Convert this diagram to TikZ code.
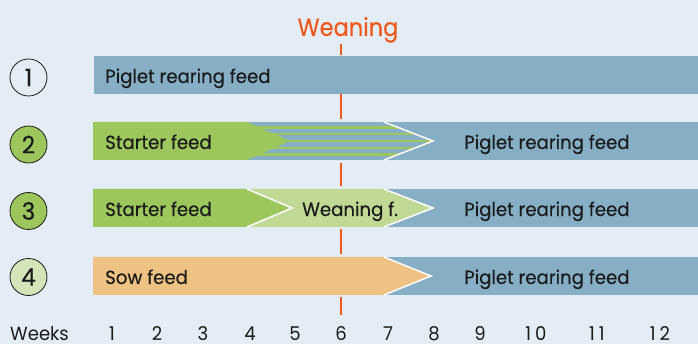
\documentclass[tikz,border=0pt]{standalone}
\usepackage{fontspec}
\setmainfont{Poppins}[FakeStretch=0.95]
\newfontfamily\barfont{Poppins}[FakeStretch=0.955, FakeBold=0.3]
\newfontfamily\weanfont{Poppins}[FakeStretch=0.9, FakeBold=0.3]
\definecolor{bgblue}{HTML}{E4ECF5}
\definecolor{barblue}{HTML}{86AFC6}
\definecolor{stgreen}{HTML}{9DC65C}
\definecolor{wngreen}{HTML}{C0DA96}
\definecolor{circgreen}{HTML}{D4E6B9}
\definecolor{sowfeed}{HTML}{EEC283}
\definecolor{weanred}{HTML}{EE5A1E}
\definecolor{ink}{HTML}{1A1A1A}
\tikzset{
  numcircle/.style={circle, draw=ink, line width=0.8pt, minimum size=37pt, inner sep=0pt,
    font=\barfont\fontsize{24}{24}\selectfont, text=ink},
  barlabel/.style={anchor=base west, inner sep=0pt, font=\barfont\fontsize{19}{19}\selectfont, text=ink},
  weeklabel/.style={anchor=base, inner sep=0pt, font=\fontsize{19}{19}\selectfont, text=ink},
  seam/.style={draw=white, line width=1.5pt, line join=miter},
  weanline/.style={draw=weanred, line width=2pt},
}
\begin{document}
\begin{tikzpicture}[x=1pt, y=-1pt]
  \fill[bgblue] (0,0) rectangle (698,344);
  \useasboundingbox (0,0) rectangle (698,344);

  % weaning marker and its dashed line
  \node[anchor=base, inner sep=0pt, text=weanred, font=\weanfont\fontsize{25}{25}\selectfont] (wean) at (348,36) {Weaning};
  \foreach \ya/\yb in {44/55, 94/119, 163/186, 229/254, 297/315}
    \draw[weanline] (341,\ya) -- (341,\yb);

  % row 1
  \fill[barblue] (94,56) rectangle (698,94);

  % row 2: starter feed blending into piglet rearing feed
  \fill[barblue] (93,122) rectangle (698,160);
  \begin{scope}
    \clip (247,122) -- (384,122) -- (433,141) -- (384,160) -- (247,160) -- cycle;
    \foreach \yy in {127.2, 134, 141, 148, 154.8}
      \fill[stgreen] (240,\yy-1.35) rectangle (440,\yy+1.35);
  \end{scope}
  \draw[seam] (384,122) -- (433,141) -- (384,160);
  \fill[stgreen] (93,122) -- (247,122) -- (290,141) -- (247,160) -- (93,160) -- cycle;

  % row 3
  \fill[barblue] (93,189) rectangle (698,227);
  \fill[wngreen] (93,189) -- (384,189) -- (433,208) -- (384,227) -- (93,227) -- cycle;
  \draw[seam] (384,189) -- (433,208) -- (384,227);
  \fill[stgreen] (93,189) -- (247,189) -- (292,208) -- (247,227) -- (93,227) -- cycle;
  \draw[seam] (247,189) -- (292,208) -- (247,227);

  % row 4
  \fill[barblue] (93,257) rectangle (698,295);
  \fill[sowfeed] (93,257) -- (384,257) -- (430,276) -- (384,295) -- (93,295) -- cycle;
  \draw[seam] (384,257) -- (431,276) -- (384,295);

  % numbered circles
  \node[numcircle, fill=bgblue] (c1) at (28.5,77.5) {1};
  \node[numcircle, fill=stgreen] (c2) at (28.5,144.5) {2};
  \node[numcircle, fill=stgreen] (c3) at (28.5,211) {3};
  \node[numcircle, fill=circgreen] (c4) at (28.5,277) {4};

  % bar texts
  \node[barlabel] (t1) at (105,83) {Piglet rearing feed};
  \node[barlabel] (t2a) at (105,149) {Starter feed};
  \node[barlabel] (t2b) at (464,149) {Piglet rearing feed};
  \node[barlabel] (t3a) at (105,216) {Starter feed};
  \node[barlabel] (t3b) at (302,216) {Weaning f.};
  \node[barlabel] (t3c) at (464,216) {Piglet rearing feed};
  \node[barlabel] (t4a) at (105,284) {Sow feed};
  \node[barlabel] (t4b) at (464,284) {Piglet rearing feed};

  % week axis
  \node[anchor=base west, inner sep=0pt, font=\fontsize{19}{19}\selectfont, text=ink] (weeks) at (10,340.5) {Weeks};
  \foreach \n/\xx in {1/112, 2/157, 3/203, 4/250, 5/295, 6/341, 7/388, 8/434, 9/480}
    \node[weeklabel] (w\n) at (\xx,340.5) {\n};
  \foreach \n/\a/\b/\xx in {10/1/0/536, 11/1/1/597, 12/1/2/660}
    \node[weeklabel] (w\n) at (\xx,340.5) {\a\kern4pt\b};
\end{tikzpicture}
\end{document}
